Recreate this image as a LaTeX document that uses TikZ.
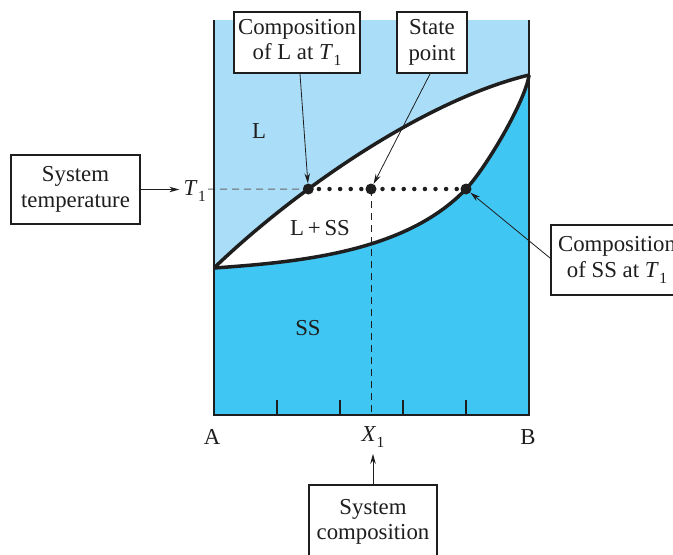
\documentclass[tikz,border=0pt]{standalone}
\usepackage{fontspec}
\setmainfont{Liberation Serif}
\usetikzlibrary{arrows.meta,intersections}
\definecolor{lblue}{RGB}{170,222,248}
\definecolor{dblue}{RGB}{64,198,242}
\definecolor{ink}{RGB}{30,30,30}
\newcommand{\Tsub}{\textit{T}\kern0.5pt\raisebox{-0.28em}{\fontsize{15.5}{15.5}\selectfont 1}}
\newcommand{\Xsub}{\textit{X}\kern0.5pt\raisebox{-0.28em}{\fontsize{15.5}{15.5}\selectfont 1}}
\begin{document}
\begin{tikzpicture}[x=1pt,y=-1pt,
 lbl/.style={font=\fontsize{22.8}{26}\selectfont, inner sep=0pt, text=ink},
 callout/.style={draw=ink, line width=2pt, fill=white, align=center, text=ink,
   font=\fontsize{22.8}{25.5}\selectfont, inner sep=0pt},
 ptr/.style={-{Stealth[length=10pt,width=5.5pt]}, line width=0.8pt, ink},
 curve/.style={line width=3.5pt, ink, line join=round},
 dotn/.style={circle, fill=ink, minimum size=11pt, inner sep=0pt},
]
\useasboundingbox (0,0) rectangle (673,555);
% regions
\fill[dblue] (214,20) rectangle (529,415);
\fill[lblue] (214,20) -- (214,268) .. controls (295,190) and (425,100) .. (529,75) -- (529,20) -- cycle;
\fill[white] (214,268) .. controls (295,190) and (425,100) .. (529,75)
   .. controls (526,100) and (486,168) .. (466,189) .. controls (406,252) and (300,262) .. (214,268) -- cycle;
% paths for intersections
\path[name path=liq] (214,268) .. controls (295,190) and (425,100) .. (529,75);
\path[name path=hline] (200,189) -- (540,189);
\path[name intersections={of=liq and hline, by=pL}];
\coordinate (pS) at (466,189);
% guide lines
\draw[line width=1pt, black!60, dash pattern=on 7pt off 5pt] (208,189) -- (pL);
\draw[line width=1pt, ink, dash pattern=on 7pt off 5pt] (371,189) -- (371,415);
\draw[line width=4.5pt, ink, line cap=round, dash pattern=on 0pt off 10.6pt] (pL) -- (pS);
% curves
\draw[curve] (214,268) .. controls (295,190) and (425,100) .. (529,75);
\draw[curve] (529,75) .. controls (526,100) and (486,168) .. (pS) .. controls (406,252) and (300,262) .. (214,268);
% frame and ticks
\draw[line width=2.2pt, ink] (214,20) -- (214,415) -- (529,415) -- (529,20);
\foreach \tx in {277,340,403,466} \draw[line width=1.4pt, ink] (\tx,400) -- (\tx,415);
% dots
\node[dotn] (d1) at (pL) {};
\node[dotn] (d2) at (371,189) {};
\node[dotn] (d3) at (pS) {};
% region labels
\node[lbl] (lL) at (259,131) {L};
\node[lbl] (lLSS) at (320,228) {L\,+\,SS};
\node[lbl] (lSS) at (308,328) {SS};
\node[lbl, anchor=east] (T1) at (206,191) {\Tsub};
\node[lbl] (lA) at (212,437) {A};
\node[lbl] (X1) at (373,437) {\Xsub};
\node[lbl] (lB) at (528,437) {B};
% callouts
\node[callout, minimum width=126pt, minimum height=61pt] (bL) at (297,42.5) {Composition\\of L at \Tsub};
\node[callout, minimum width=70pt, minimum height=61pt] (bSP) at (432,42.5) {State\\point};
\node[callout, minimum width=129pt, minimum height=69pt] (bT) at (75.5,189.5) {System\\temperature};
\node[callout, minimum width=132pt, minimum height=70pt] (bS) at (617,260) {Composition\\of SS at \Tsub};
\node[callout, minimum width=128pt, minimum height=74pt] (bC) at (373,522) {System\\composition};
% pointers
\draw[ptr] ([xshift=3pt]bL.south) -- (d1);
\draw[ptr] ([xshift=-2pt]bSP.south) -- (d2);
\draw[ptr, shorten >=4pt] (bT.east) -- (T1.west |- bT.east);
\draw[ptr] ([yshift=2pt]bS.west) -- (d3);
\draw[ptr, shorten >=6pt] (bC.north) -- (X1.south);
\end{tikzpicture}
\end{document}
